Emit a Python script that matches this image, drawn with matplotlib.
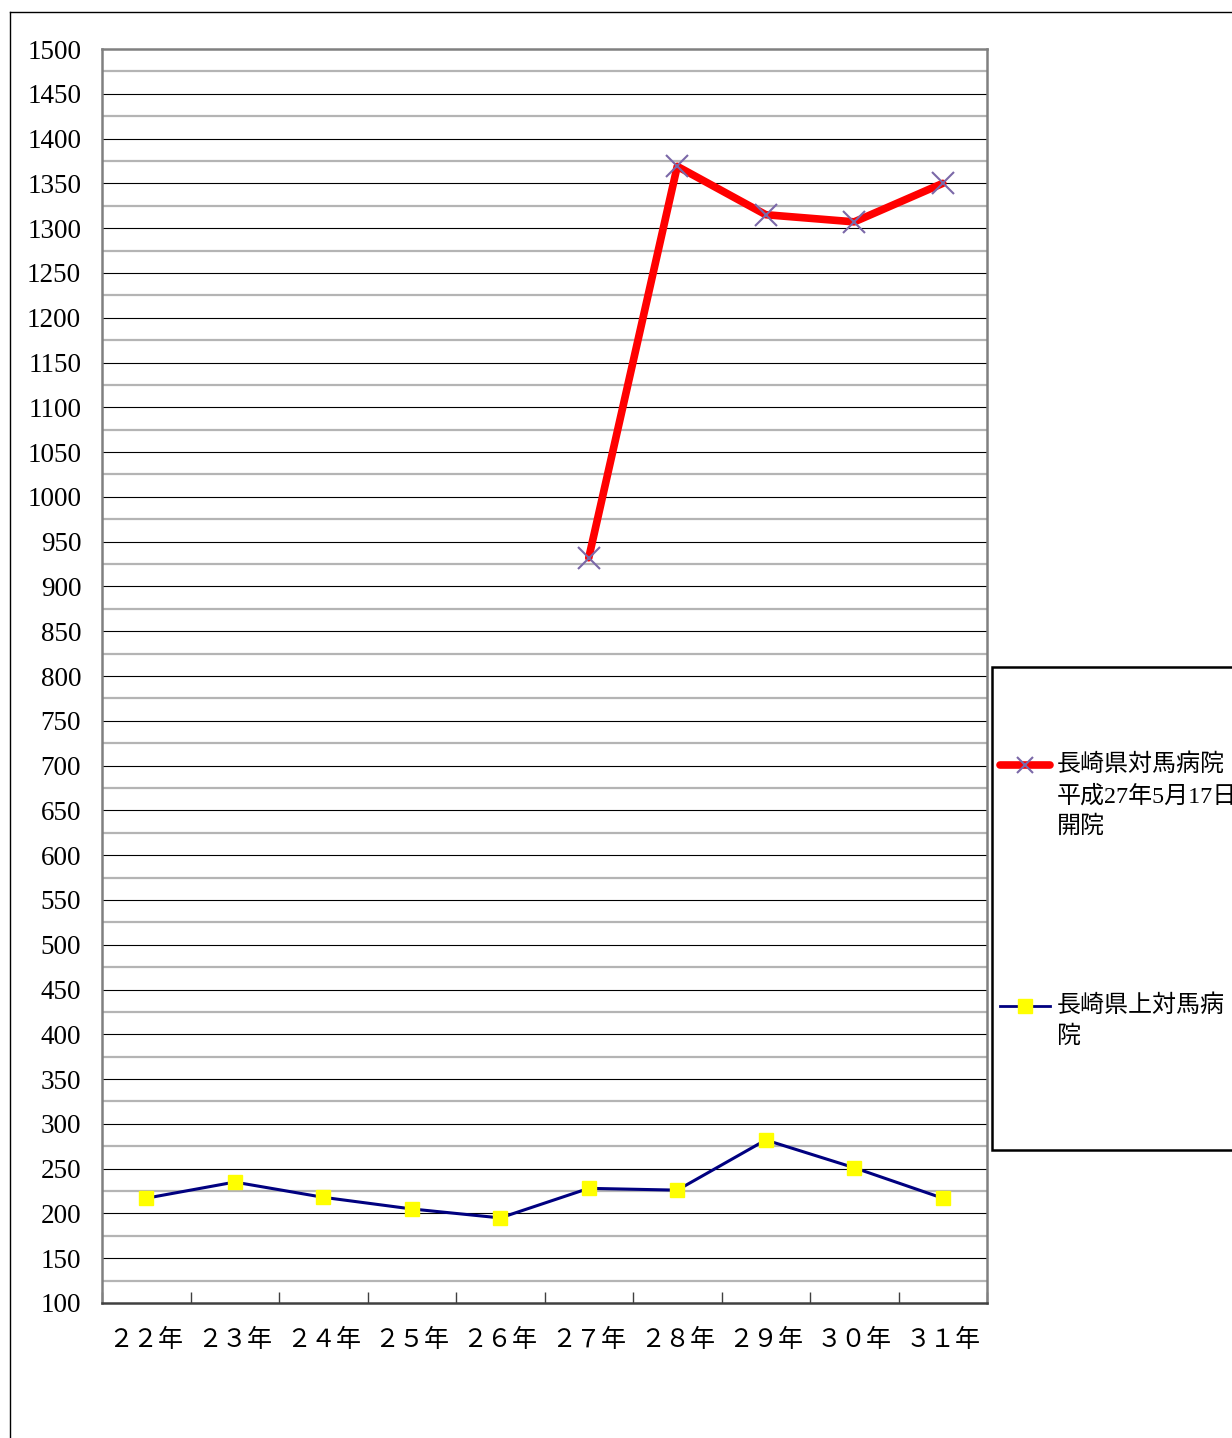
import numpy as np
import matplotlib.pyplot as plt
from matplotlib.lines import Line2D
from matplotlib.patches import Rectangle

years = ['２２年', '２３年', '２４年', '２５年', '２６年',
         '２７年', '２８年', '２９年', '３０年', '３１年']
tsushima = [np.nan, np.nan, np.nan, np.nan, np.nan, 932, 1369, 1315, 1307, 1350]
kamitsushima = [217, 235, 218, 205, 195, 228, 226, 282, 251, 217]
label_tsushima = ['長崎県対馬病院', '平成27年5月17日', '開院']
label_kami = ['長崎県上対馬病', '院']

W, H = 1232, 1438
fig = plt.figure(figsize=(W / 100, H / 100), dpi=100)
ax = fig.add_axes([102 / W, 1 - 1303 / H, 885 / W, 1254 / H])

x = np.arange(len(years))

# grid: black every 50, grey in between
for v in range(125, 1500, 50):
    ax.axhline(v, color='#b4b4b4', lw=1.6, zorder=1)
for v in range(150, 1500, 50):
    ax.axhline(v, color='black', lw=0.8, zorder=1)

ax.plot(x, kamitsushima, color='#000080', lw=2.2, marker='s', ms=10,
        mfc='#ffff00', mec='#ffff00', zorder=3)
ax.plot(x, tsushima, color='#ff0000', lw=5.5, marker='x', ms=16,
        mec='#7b68a8', mew=1.5, zorder=4, solid_capstyle='round')

ax.set_xlim(-0.5, len(years) - 0.5)
ax.set_ylim(100, 1500)
ax.set_yticks(range(100, 1501, 50))
ax.tick_params(axis='y', length=0, pad=15)
for t in ax.get_yticklabels():
    t.set_fontfamily('Liberation Serif')
    t.set_fontsize(19.5)

ax.set_xticks(np.arange(-0.5, len(years), 1.0))
ax.set_xticklabels([])
ax.tick_params(axis='x', which='major', direction='in', length=8, width=1, color='#404040')
ax.set_xticks(x, minor=True)
ax.set_xticklabels(years, minor=True, fontfamily=['Noto Sans CJK JP'], fontsize=18)
ax.tick_params(axis='x', which='minor', length=0, pad=17)

for s in ['left', 'right', 'top']:
    ax.spines[s].set_color('#808080')
    ax.spines[s].set_linewidth(1.8)
ax.spines['bottom'].set_color('#404040')
ax.spines['bottom'].set_linewidth(1.8)

# outer frame
fig.add_artist(Line2D([10 / W, 10 / W], [0, 1 - 12 / H], color='black', lw=1))
fig.add_artist(Line2D([10 / W, 1], [1 - 12 / H, 1 - 12 / H], color='black', lw=1))

# legend box
fig.add_artist(Rectangle((992 / W, 1 - 1150 / H), 300 / W, 483 / H,
                         facecolor='white', edgecolor='black', lw=1.8))
fam = ['Liberation Serif', 'Noto Sans CJK JP']
y0 = 1 - 765 / H
fig.add_artist(Line2D([1000 / W, 1050 / W], [y0, y0], color='#ff0000', lw=5.5,
                      solid_capstyle='round'))
fig.add_artist(Line2D([1025 / W], [y0], marker='x', ms=12, mec='#7b68a8', mew=1.5))
for i, s in enumerate(label_tsushima):
    fig.text(1057 / W, 1 - (765 + 31 * i) / H, s, fontfamily=fam, fontsize=17.3, va='center')
y1 = 1 - 1006 / H
fig.add_artist(Line2D([1000 / W, 1050 / W], [y1, y1], color='#000080', lw=2))
fig.add_artist(Line2D([1025 / W], [y1], marker='s', ms=10, mfc='#ffff00', mec='#ffff00'))
for i, s in enumerate(label_kami):
    fig.text(1057 / W, 1 - (1006 + 31 * i) / H, s, fontfamily=fam, fontsize=17.3, va='center')

fig.savefig('out.png', dpi=100)
